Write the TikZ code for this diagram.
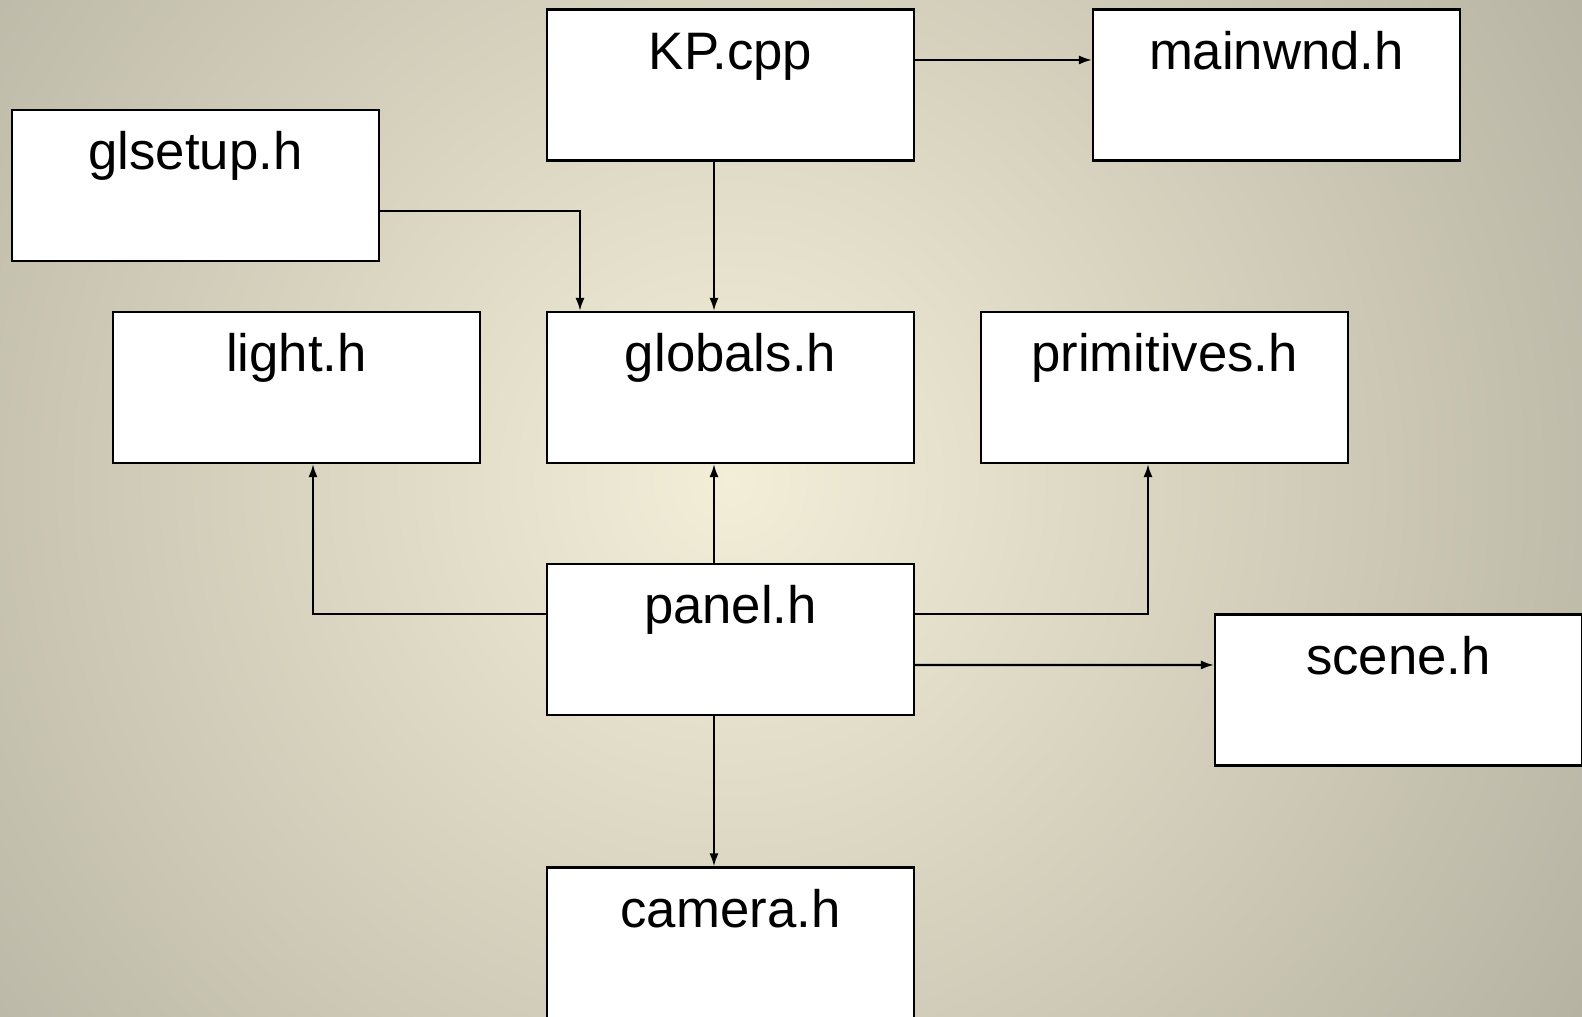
\documentclass[tikz,border=0pt]{standalone}
\usepackage{fontspec}
\setmainfont{Liberation Sans}
\usepackage{tikz}
\usetikzlibrary{arrows.meta}

\definecolor{bgcenter}{HTML}{F3EED8}
\definecolor{bgmid}{HTML}{B9B5A4}
\definecolor{bgedge}{HTML}{A5A391}
\pgfdeclareradialshading{bgglow}{\pgfpoint{0bp}{0bp}}{color(0bp)=(bgcenter); color(27bp)=(bgmid); color(35bp)=(bgedge); color(50bp)=(bgedge)}

\begin{document}
\begin{tikzpicture}
\tikzstyle{box}=[draw=black,fill=white,line width=0.6pt,rectangle,inner sep=0pt,minimum width=3.67cm,text height=0.6cm,text depth=0.91cm,font=\fontsize{15}{18}\selectfont]
\tikzstyle{dep}=[line width=0.6pt,-{Latex[length=1.3mm,width=0.9mm]}]
\useasboundingbox (0,0) rectangle (15.82,10.17);
% background glow
\begin{scope}
\clip (0,0) rectangle (15.82,10.17);
\shade[shading=bgglow] (-1.7,-3.63) rectangle (16.3,14.37);
\end{scope}
\foreach \name/\point/\txt in {
	kp/{7.305,9.32}/KP.cpp,
	mainwnd/{12.765,9.32}/mainwnd.h,
	glsetup/{1.955,8.315}/glsetup.h,
	light/{2.965,6.295}/light.h,
	globals/{7.305,6.295}/globals.h,
	primitives/{11.645,6.295}/primitives.h,
	panel/{7.305,3.775}/panel.h,
	scene/{13.985,3.27}/scene.h,
	camera/{7.305,0.74}/camera.h}
	\node[box] (\name) at (\point) {\txt};
\draw[dep] ([yshift=0.25cm]kp.east) -- ([yshift=0.25cm]mainwnd.west);
\draw[dep] ([xshift=-0.165cm]kp.south) -- ([xshift=-0.165cm]globals.north);
\draw[dep] ([yshift=-0.255cm]glsetup.east) -| ([xshift=-1.505cm]globals.north);
\draw[dep] ([xshift=-0.165cm]panel.north) -- ([xshift=-0.165cm]globals.south);
\draw[dep] ([yshift=0.255cm]panel.west) -| ([xshift=0.165cm]light.south);
\draw[dep] ([yshift=0.255cm]panel.east) -| ([xshift=-0.165cm]primitives.south);
\draw[dep] ([yshift=-0.255cm]panel.east) -- ([yshift=0.25cm]scene.west);
\draw[dep] ([xshift=-0.165cm]panel.south) -- ([xshift=-0.165cm]camera.north);
\end{tikzpicture}
\end{document}
